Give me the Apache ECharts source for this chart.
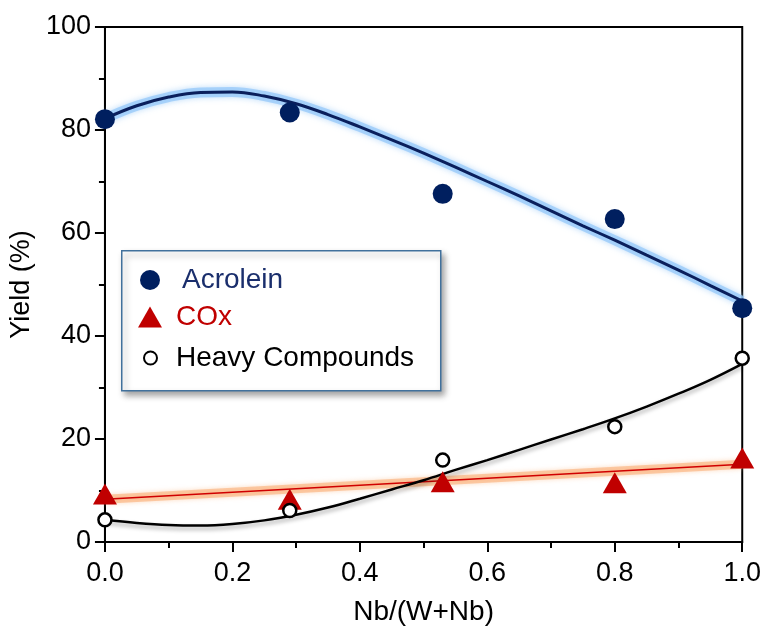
<!DOCTYPE html>
<html>
<head>
<meta charset="utf-8">
<script src="https://cdn.jsdelivr.net/npm/echarts@6/dist/echarts.min.js"></script>
<style>
  html, body { margin: 0; padding: 0; background: #fff; }
  #chart { width: 764px; height: 633px; }
</style>
</head>
<body>
<div id="chart"></div>
<script>
// measured points
const ratioX = [0, 0.29, 0.53, 0.8, 1.0]
const acroleinYield = [82.1, 83.4, 67.6, 62.7, 45.4]
const coxYield = [9.3, 8.3, 11.7, 11.5, 16.3]
const heavyYield = [4.3, 6.1, 15.9, 22.4, 35.7]

// fitted curves, every 0.05
const fitX = [0, 0.05, 0.1, 0.15, 0.2, 0.25, 0.3, 0.35, 0.4, 0.45, 0.5,
  0.55, 0.6, 0.65, 0.7, 0.75, 0.8, 0.85, 0.9, 0.95, 1.0]
const acroleinFit = [82.2, 84.7, 86.4, 87.3, 87.4, 86.6, 85.1, 83.0, 80.6, 78.1, 75.5,
  72.8, 70.0, 67.2, 64.3, 61.4, 58.6, 55.7, 52.8, 49.8, 46.8]
const heavyFit = [4.3, 3.7, 3.3, 3.2, 3.5, 4.2, 5.3, 6.7, 8.4, 10.2, 12.0,
  14.0, 15.9, 17.9, 19.9, 21.9, 24.0, 26.3, 28.8, 31.5, 34.6]
const coxFitX = [0, 1.0]
const coxFit = [8.3, 15.1]

const xTicks = [0, 0.2, 0.4, 0.6, 0.8, 1.0]
const yTicks = [0, 20, 40, 60, 80, 100]

const FONT = 'Liberation Sans'
const pairs = (xs, ys) => xs.map((x, i) => [x, ys[i]])

const chart = echarts.init(document.getElementById('chart'), null, { renderer: 'canvas' })

const legendBase = {
  orient: 'vertical',
  selectedMode: false,
  padding: 0,
  itemGap: 0,
}

const option = {
  backgroundColor: '#fff',
  animation: false,
  grid: {
    left: 103, right: 21, top: 27, bottom: 91,
    show: true, borderColor: '#000', borderWidth: 2,
  },
  graphic: [
    {
      type: 'rect',
      left: 121, top: 250, z: 5,
      shape: { width: 319, height: 140 },
      style: {
        fill: '#fff', stroke: '#41719c', lineWidth: 1.5,
        shadowColor: 'rgba(0,0,0,0.35)', shadowBlur: 6, shadowOffsetX: 3, shadowOffsetY: 4,
      },
    },
  ],
  legend: [
    {
      ...legendBase,
      left: 140, top: 264, z: 10,
      data: ['Acrolein'],
      itemWidth: 20, itemHeight: 20,
      textStyle: { fontFamily: FONT, fontSize: 28, color: '#1a2e6c', lineHeight: 32, padding: [0, 0, 0, 17] },
    },
    {
      ...legendBase,
      left: 138, top: 301, z: 10,
      data: ['COx'],
      itemWidth: 24, itemHeight: 21,
      textStyle: { fontFamily: FONT, fontSize: 28, color: '#c00000', lineHeight: 32, padding: [0, 0, 0, 9] },
    },
    {
      ...legendBase,
      left: 143, top: 342, z: 10,
      data: ['Heavy Compounds'],
      itemWidth: 13, itemHeight: 13,
      textStyle: { fontFamily: FONT, fontSize: 28, color: '#000', lineHeight: 32, padding: [0, 0, 0, 14] },
    },
  ],
  xAxis: {
    type: 'value',
    min: 0, max: 1, interval: 0.2,
    name: 'Nb/(W+Nb)',
    nameLocation: 'middle',
    nameGap: 56,
    nameTextStyle: { fontFamily: FONT, fontSize: 28, color: '#000' },
    axisLine: { lineStyle: { color: '#000', width: 2 } },
    axisTick: { length: 10, lineStyle: { color: '#000', width: 2 } },
    minorTick: { show: true, splitNumber: 2, length: 6, lineStyle: { color: '#000', width: 2 } },
    splitLine: { show: false },
    axisLabel: {
      fontFamily: FONT, fontSize: 27, color: '#000', margin: 18,
      formatter: v => xTicks.includes(+v.toFixed(1)) ? v.toFixed(1) : '',
    },
  },
  yAxis: {
    type: 'value',
    min: 0, max: 100, interval: 20,
    name: 'Yield (%)',
    nameLocation: 'middle',
    nameGap: 61,
    nameTextStyle: { fontFamily: FONT, fontSize: 27, color: '#000' },
    axisLine: { show: true, lineStyle: { color: '#000', width: 2 } },
    axisTick: { show: true, length: 10, lineStyle: { color: '#000', width: 2 } },
    minorTick: { show: true, splitNumber: 2, length: 6, lineStyle: { color: '#000', width: 2 } },
    splitLine: { show: false },
    axisLabel: {
      fontFamily: FONT, fontSize: 27, color: '#000', margin: 14,
      formatter: v => yTicks.includes(v) ? String(v) : '',
    },
  },
  series: [
    {
      name: 'Acrolein glow',
      type: 'line',
      data: pairs(fitX, acroleinFit),
      smooth: 0.4,
      showSymbol: false,
      silent: true,
      z: 1,
      lineStyle: { color: 'rgba(150,200,250,0.75)', width: 10, shadowColor: '#a6d0f8', shadowBlur: 6 },
    },
    {
      name: 'Acrolein fit',
      type: 'line',
      data: pairs(fitX, acroleinFit),
      smooth: 0.4,
      showSymbol: false,
      z: 2,
      lineStyle: { color: '#0a1f5c', width: 3 },
    },
    {
      name: 'COx glow',
      type: 'line',
      data: pairs(coxFitX, coxFit),
      showSymbol: false,
      silent: true,
      z: 1,
      lineStyle: { color: 'rgba(250,175,120,0.6)', width: 9, shadowColor: '#fbc49a', shadowBlur: 5 },
    },
    {
      name: 'COx fit',
      type: 'line',
      data: pairs(coxFitX, coxFit),
      showSymbol: false,
      z: 2,
      lineStyle: { color: '#d00000', width: 1.5 },
    },
    {
      name: 'Heavy fit',
      type: 'line',
      data: pairs(fitX, heavyFit),
      smooth: 0.4,
      showSymbol: false,
      z: 3,
      lineStyle: { color: '#000', width: 2.5, shadowColor: 'rgba(0,0,0,0.35)', shadowBlur: 4, shadowOffsetY: 3 },
    },
    {
      name: 'Acrolein',
      type: 'scatter',
      data: pairs(ratioX, acroleinYield),
      symbol: 'circle',
      symbolSize: 20,
      clip: false,
      z: 4,
      itemStyle: { color: '#001f5f', opacity: 1 },
    },
    {
      name: 'COx',
      type: 'scatter',
      data: pairs(ratioX, coxYield),
      symbol: 'triangle',
      symbolSize: [24, 21],
      clip: false,
      z: 4,
      itemStyle: { color: '#c00000', opacity: 1 },
    },
    {
      name: 'Heavy Compounds',
      type: 'scatter',
      data: pairs(ratioX, heavyYield),
      symbol: 'circle',
      symbolSize: 13,
      clip: false,
      z: 5,
      itemStyle: { color: '#fff', borderColor: '#000', borderWidth: 2.5, opacity: 1 },
    },
  ],
}

chart.setOption(option)
window.addEventListener('resize', () => chart.resize())
</script>
</body>
</html>
